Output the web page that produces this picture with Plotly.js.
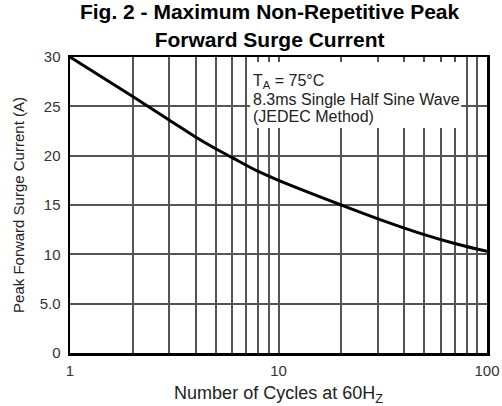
<!DOCTYPE html>
<html>
<head>
<meta charset="utf-8">
<script src="https://cdn.plot.ly/plotly-3.0.1.min.js"></script>
<style>
html,body{margin:0;padding:0;background:#fff;}
#chart{width:502px;height:406px;}
</style>
</head>
<body>
<div id="chart"></div>
<script>
// Data
const cycles = [1, 2, 3, 4, 5, 6, 8, 10, 20, 30, 50, 70, 100];
const surgeCurrent = [30, 26.0, 23.6, 21.9, 20.7, 19.8, 18.4, 17.5, 15.0, 13.6, 12.0, 11.1, 10.3];

const xTickVals = [1, 2, 3, 4, 5, 6, 7, 8, 9, 10, 20, 30, 40, 50, 60, 70, 80, 90, 100];
const xTickText = ['1', '', '', '', '', '', '', '', '', '10', '', '', '', '', '', '', '', '', '100'];
const yTickVals = [0, 5, 10, 15, 20, 25, 30];
const yTickText = ['0', '5.0', '10', '15', '20', '25', '30'];
const noteLines = ['T<sub>A</sub> = 75°C', '8.3ms Single Half Sine Wave', '(JEDEC Method)'];

const FONT = 'Liberation Sans, Arial, Helvetica, sans-serif';

const trace = {
  x: cycles,
  y: surgeCurrent,
  type: 'scatter',
  mode: 'lines',
  line: {color: '#000', width: 3, shape: 'spline', smoothing: 1},
  hoverinfo: 'x+y'
};

const noteY = [0.9166, 0.857, 0.80];
const annotations = noteLines.map((t, i) => ({
  xref: 'paper', yref: 'paper',
  x: 0.433, y: noteY[i],
  xanchor: 'left', yanchor: 'middle',
  align: 'left',
  showarrow: false,
  text: t,
  font: {family: FONT, size: 16, color: '#222'}
}));

const layout = {
  width: 502,
  height: 406,
  margin: {l: 70, r: 15, t: 57, b: 53},
  paper_bgcolor: '#fff',
  plot_bgcolor: '#fff',
  showlegend: false,
  font: {family: FONT, color: '#222', size: 13},
  title: {
    text: '<b>Fig. 2 - Maximum Non-Repetitive Peak<br>Forward Surge Current</b>',
    font: {family: FONT, size: 21, color: '#000'},
    xref: 'container', x: 0.537, xanchor: 'center',
    yref: 'container', y: 0.952, yanchor: 'top'
  },
  xaxis: {
    type: 'log',
    range: [0, 2],
    tickvals: xTickVals,
    ticktext: xTickText,
    ticks: '',
    ticklabelstandoff: 2,
    showgrid: true,
    gridcolor: '#555',
    gridwidth: 2,
    showline: true,
    linecolor: '#000',
    linewidth: 2.5,
    mirror: true,
    zeroline: false,
    tickfont: {family: FONT, size: 15, color: '#333'},
    title: {
      text: 'Number of Cycles at 60H<sub>Z</sub>',
      font: {family: FONT, size: 18, color: '#222'},
      standoff: 10
    }
  },
  yaxis: {
    range: [0, 30],
    tickvals: yTickVals,
    ticktext: yTickText,
    ticks: '',
    ticklabelstandoff: 4,
    showgrid: true,
    gridcolor: '#555',
    gridwidth: 2,
    showline: true,
    linecolor: '#000',
    linewidth: 2.5,
    mirror: true,
    zeroline: false,
    tickfont: {family: FONT, size: 15, color: '#333'},
    title: {
      text: 'Peak Forward Surge Current (A)',
      font: {family: FONT, size: 15, color: '#222'},
      standoff: 12
    }
  },
  shapes: [{
    type: 'rect',
    xref: 'paper', yref: 'paper',
    x0: 0.432, x1: 0.938, y0: 0.76, y1: 0.983,
    fillcolor: '#fff',
    line: {width: 0},
    layer: 'above'
  }],
  annotations: annotations
};

Plotly.newPlot('chart', [trace], layout, {displayModeBar: false, staticPlot: true});
</script>
</body>
</html>
